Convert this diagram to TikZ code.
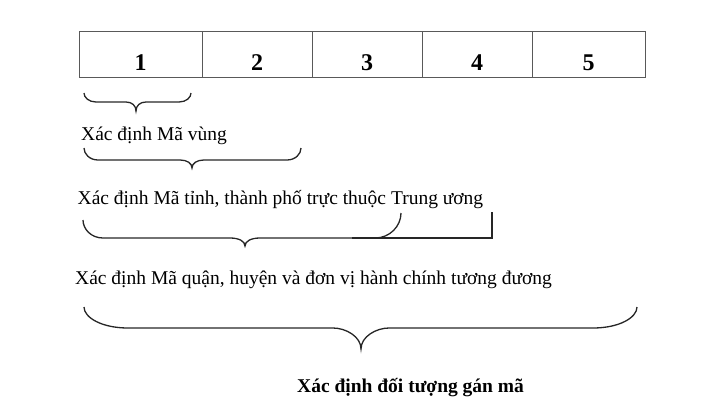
\documentclass[tikz,border=0pt]{standalone}
\usepackage{fontspec}
\setmainfont{Liberation Serif}
\usetikzlibrary{positioning}

\begin{document}
\begin{tikzpicture}[%
  x=1pt, y=1pt,
  cell/.style={draw=black!65, line width=1pt, outer sep=0pt, inner sep=2pt,
    minimum height=46pt, text height=30.6pt, text depth=0pt,
    font=\fontsize{24}{28}\selectfont\bfseries},
  brace/.style={draw=black!85, line width=1.3pt},
  caption/.style={anchor=base west, inner sep=0pt,
    font=\fontsize{19.5}{23}\selectfont},
]

  \useasboundingbox (0,0) rectangle (711,400);

  \node[cell, minimum width=123pt] (c1) at (140.5,345.3) {1};
  \node[cell, minimum width=110pt, right=0pt of c1] (c2) {2};
  \node[cell, minimum width=110pt, right=0pt of c2] (c3) {3};
  \node[cell, minimum width=110pt, right=0pt of c3] (c4) {4};
  \node[cell, minimum width=113pt, right=0pt of c4] (c5) {5};

  \draw[brace] (84,307) .. controls (84,302.5) and (88.8,298) .. (96,298)
    -- (126,298) .. controls (132,298) and (136,294.4) .. (136,289)
    .. controls (136,294.4) and (140,298) .. (146,298)
    -- (179,298) .. controls (186.2,298) and (191,302.5) .. (191,307);
  \node[caption] (vung) at (81,260) {Xác định Mã vùng};

  \draw[brace] (84,252) .. controls (84,246) and (89.6,240) .. (98,240)
    -- (180,240) .. controls (187,240) and (192,236.8) .. (192,232)
    .. controls (192,236.8) and (197,240) .. (204,240)
    -- (287,240) .. controls (295.4,240) and (301,246) .. (301,252);
  \node[caption] (tinh) at (77.5,196)
    {Xác định Mã tỉnh, thành phố trực thuộc Trung ương};

  \draw[brace] (83,180) .. controls (83,171) and (91,162) .. (103,162)
    -- (230,162) .. controls (239,162) and (245,158.8) .. (245,154)
    .. controls (245,158.8) and (251,162) .. (260,162)
    -- (375,162) .. controls (390,162) and (401,174) .. (401,187);
  \draw[brace] (352,162) -- (492,162) -- (492,188);
  \node[caption] (quan) at (75,116)
    {Xác định Mã quận, huyện và đơn vị hành chính tương đương};

  \draw[brace] (84,93) .. controls (84,82.5) and (101.6,72) .. (128,72)
    -- (333,72) .. controls (345.6,72) and (361,63.6) .. (361,51)
    .. controls (361,63.6) and (376.4,72) .. (389,72)
    -- (593,72) .. controls (619.4,72) and (637,82.5) .. (637,93);
  \node[caption, font=\fontsize{19.5}{23}\selectfont\bfseries] (doituong)
    at (297,8) {Xác định đối tượng gán mã};

\end{tikzpicture}
\end{document}
